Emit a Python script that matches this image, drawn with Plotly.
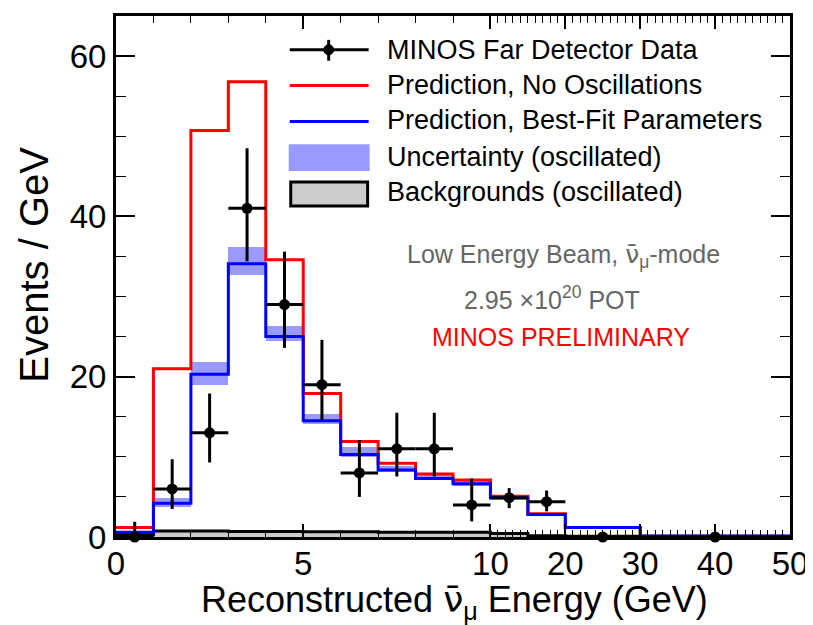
import plotly.graph_objects as go

# ---------------- data ----------------
bin_edges_gev = [0, 1, 2, 3, 4, 5, 6, 7, 8, 9, 10, 15, 20, 30, 50]

pred_no_osc = [1.2, 21.0, 50.7, 56.8, 34.6, 17.9, 11.9, 9.2, 7.85, 7.1, 5.07, 2.9, 1.2, 0.1]
pred_best_fit = [0.6, 4.2, 20.3, 34.1, 25.0, 14.5, 10.3, 8.35, 7.3, 6.65, 4.87, 2.8, 1.2, 0.12]
unc_low = [0.4, 3.8, 19.0, 32.7, 24.4, 14.1, 10.0, 8.1, 7.1, 6.4, 4.7, 2.65, 1.1, 0.08]
unc_high = [0.8, 4.9, 21.8, 36.2, 26.3, 15.3, 11.2, 8.9, 7.7, 7.0, 5.2, 3.0, 1.35, 0.16]
backgrounds = [0.3, 0.75, 0.75, 0.7, 0.7, 0.65, 0.65, 0.6, 0.6, 0.6, 0.45, 0.15, 0.08, 0.03]

data_x_gev = [0.5, 1.5, 2.5, 3.5, 4.5, 5.5, 6.5, 7.5, 8.5, 9.5, 12.5, 17.5, 25, 40]
data_y = [0, 6.0, 13.0, 41.0, 29.0, 19.0, 8.0, 11.0, 11.0, 4.0, 4.9, 4.4, 0, 0]
data_err_up = [1.9, 3.7, 4.9, 7.5, 6.6, 5.6, 4.1, 4.5, 4.5, 3.3, 1.2, 1.4, 0.18, 0.09]
data_err_down = [0, 2.5, 3.7, 6.6, 5.4, 4.4, 3.0, 3.45, 3.45, 2.05, 1.3, 1.2, 0, 0]

x_tick_gev = [0, 5, 10, 20, 30, 40, 50]
x_tick_text = ["0", "5", "10", "20", "30", "40", "50"]
y_tick_vals = [0, 20, 40, 60]


# axis: 0-10 GeV linear, 10-50 GeV compressed by a factor 5
def to_u(e):
    return e if e <= 10 else 10 + (e - 10) / 5.0


edges_u = [to_u(e) for e in bin_edges_gev]
centers_u = [(a + b) / 2 for a, b in zip(edges_u[:-1], edges_u[1:])]
widths_u = [b - a for a, b in zip(edges_u[:-1], edges_u[1:])]
data_x_u = [to_u(e) for e in data_x_gev]
data_xerr_u = [w / 2 for w in widths_u]


def step_y(vals):
    return list(vals) + [vals[-1]]


fig = go.Figure()

# uncertainty band
fig.add_trace(go.Bar(
    x=centers_u, y=[h - l for h, l in zip(unc_high, unc_low)], base=unc_low,
    width=widths_u, marker=dict(color="#9999ff", line=dict(width=0)),
    showlegend=False, hoverinfo="skip"))

# backgrounds
fig.add_trace(go.Scatter(
    x=edges_u, y=step_y(backgrounds), mode="lines", line_shape="hv",
    line=dict(color="black", width=3), fill="tozeroy", fillcolor="#cccccc",
    showlegend=False))

# no-oscillation prediction
fig.add_trace(go.Scatter(
    x=edges_u, y=step_y(pred_no_osc), mode="lines", line_shape="hv",
    line=dict(color="#ff0000", width=3), showlegend=False))

# best fit prediction
fig.add_trace(go.Scatter(
    x=edges_u, y=step_y(pred_best_fit), mode="lines", line_shape="hv",
    line=dict(color="#0000ff", width=3), showlegend=False))

# data
fig.add_trace(go.Scatter(
    x=data_x_u, y=data_y, mode="markers",
    marker=dict(color="black", size=11),
    error_y=dict(type="data", symmetric=False, array=data_err_up,
                 arrayminus=data_err_down, color="black", thickness=3, width=0),
    error_x=dict(type="data", array=data_xerr_u, color="black", thickness=3, width=0),
    cliponaxis=False, showlegend=False))

# ---------------- layout ----------------
# page body has an 8px margin; the figure is shrunk so the plot lands where the reference has it
OFF = 8
W, H = 813 - OFF, 625 - OFF
L_SCR, T_SCR = 116, 13          # plot-area left/top on screen
PW, PH = 675, 524
L, T = L_SCR - OFF, T_SCR - OFF
R = W - L - PW
B = H - T - PH


def px(x):
    return (x - L_SCR) / PW


def py(y):
    return (T_SCR + PH - y) / PH


FONT = "Liberation Sans, Arial, Helvetica, sans-serif"
NU_BAR = '<span style="font-family:DejaVu Sans">ν\u0304</span>'

minor_x = [to_u(e) for e in list(range(1, 10)) + list(range(11, 50))
           if e not in (5, 20, 30, 40)]

fig.update_layout(
    width=W, height=H, autosize=False,
    margin=dict(l=L, r=R, t=T, b=B, pad=0),
    plot_bgcolor="white", paper_bgcolor="white",
    barmode="overlay", bargap=0,
    font=dict(family=FONT, color="black"),
    showlegend=False,
    xaxis=dict(
        range=[0, 18], showgrid=False, zeroline=False,
        showline=True, linecolor="black", linewidth=3, mirror="allticks",
        ticks="inside", ticklen=13, tickwidth=1.5, tickcolor="black",
        tickmode="array", tickvals=[to_u(e) for e in x_tick_gev], ticktext=x_tick_text,
        tickfont=dict(size=33, family=FONT, color="black"),
        ticklabelstandoff=-5,
        minor=dict(tickmode="array", tickvals=minor_x, ticks="inside",
                   ticklen=7, tickwidth=1.2, tickcolor="black"),
    ),
    yaxis=dict(
        range=[0, 65], showgrid=False, zeroline=False,
        showline=True, linecolor="black", linewidth=3, mirror="allticks",
        ticks="inside", ticklen=19, tickwidth=1.5, tickcolor="black",
        tickmode="array", tickvals=y_tick_vals,
        tickfont=dict(size=33, family=FONT, color="black"),
        minor=dict(tickmode="array", tickvals=[5, 10, 15, 25, 30, 35, 45, 50, 55, 65],
                   ticks="inside", ticklen=10, tickwidth=1.2, tickcolor="black"),
    ),
)

annotations = []
shapes = []

# axis titles
annotations.append(dict(
    text="Reconstructed " + NU_BAR + "<sub>μ</sub> Energy (GeV)", x=px(455), y=py(602),
    xref="paper", yref="paper", xanchor="center", yanchor="middle",
    showarrow=False, font=dict(size=36, family=FONT, color="black")))
annotations.append(dict(
    text="Events / GeV", x=px(33), y=py(263), textangle=-90,
    xref="paper", yref="paper", xanchor="center", yanchor="middle",
    showarrow=False, font=dict(size=40, family=FONT, color="black")))

# info texts
annotations.append(dict(
    text="Low Energy Beam, " + NU_BAR + "<sub>μ</sub>-mode", x=px(564), y=py(254),
    xref="paper", yref="paper", xanchor="center", yanchor="middle",
    showarrow=False, font=dict(size=25, family=FONT, color="#666666")))
annotations.append(dict(
    text="2.95 ×10<sup>20</sup> POT", x=px(553), y=py(297),
    xref="paper", yref="paper", xanchor="center", yanchor="middle",
    showarrow=False, font=dict(size=25, family=FONT, color="#666666")))
annotations.append(dict(
    text="MINOS PRELIMINARY", x=px(562), y=py(336),
    xref="paper", yref="paper", xanchor="center", yanchor="middle",
    showarrow=False, font=dict(size=25, family=FONT, color="#ff0000")))

# manual legend
legend_labels = ["MINOS Far Detector Data", "Prediction, No Oscillations",
                 "Prediction, Best-Fit Parameters", "Uncertainty (oscillated)",
                 "Backgrounds (oscillated)"]
legend_rows = [47, 82, 118, 155, 190]
for lab, yy in zip(legend_labels, legend_rows):
    annotations.append(dict(
        text=lab, x=px(385), y=py(yy), xref="paper", yref="paper",
        xanchor="left", yanchor="middle", showarrow=False,
        font=dict(size=27, family=FONT, color="black")))


def line(x0, y0, x1, y1, color, w=3):
    shapes.append(dict(type="line", xref="paper", yref="paper",
                       x0=px(x0), y0=py(y0), x1=px(x1), y1=py(y1),
                       line=dict(color=color, width=w)))


line(290, 47, 369, 47, "black")
line(329, 37, 329, 58, "black")
shapes.append(dict(type="circle", xref="paper", yref="paper",
                   x0=px(324), x1=px(334), y0=py(42), y1=py(52),
                   fillcolor="black", line=dict(color="black", width=1)))
line(290, 83, 369, 83, "#ff0000")
line(290, 119, 369, 119, "#0000ff")
shapes.append(dict(type="rect", xref="paper", yref="paper",
                   x0=px(289), x1=px(370), y0=py(142), y1=py(169),
                   fillcolor="#9999ff", line=dict(width=0)))
shapes.append(dict(type="rect", xref="paper", yref="paper",
                   x0=px(291), x1=px(368), y0=py(180), y1=py(204),
                   fillcolor="#cccccc", line=dict(color="black", width=3)))

fig.update_layout(annotations=annotations, shapes=shapes)

fig.write_html("out.html")
